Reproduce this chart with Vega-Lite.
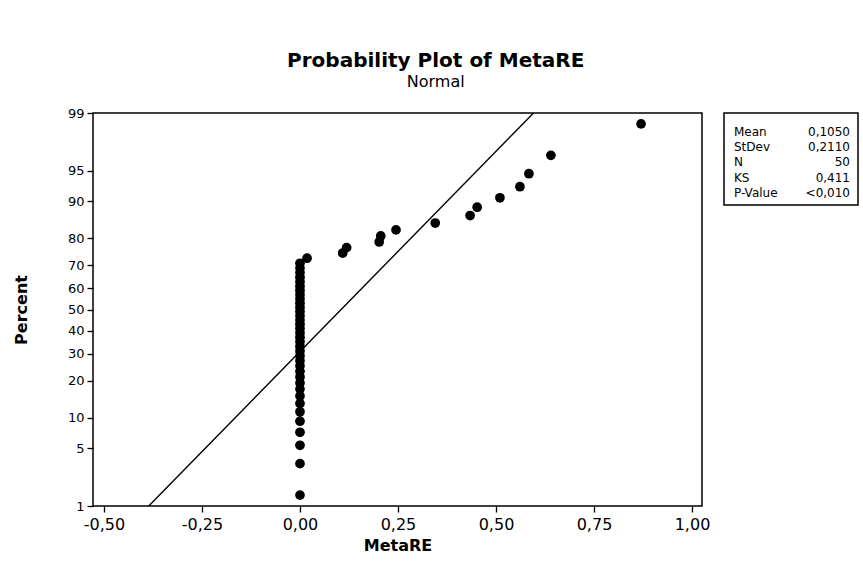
{
  "$schema": "https://vega.github.io/schema/vega-lite/v6.json",
  "background": "white",
  "padding": {"left": 12, "top": 51, "right": 3, "bottom": 5},
  "autosize": {"type": "pad"},
  "bounds": "flush",
  "spacing": 22,
  "title": {
    "text": "Probability Plot of MetaRE",
    "subtitle": "Normal",
    "font": "DejaVu Sans",
    "fontSize": 20,
    "fontWeight": "bold",
    "color": "black",
    "subtitleFont": "DejaVu Sans",
    "subtitleFontSize": 16,
    "subtitleColor": "black",
    "subtitlePadding": 3,
    "offset": 16,
    "anchor": "middle"
  },
  "config": {
    "font": "DejaVu Sans",
    "view": {"stroke": "black", "strokeWidth": 1.5},
    "axis": {
      "domain": false,
      "grid": false,
      "labelFont": "DejaVu Sans",
      "labelColor": "black",
      "tickColor": "black",
      "tickSize": 6,
      "tickWidth": 1.3,
      "titleFont": "DejaVu Sans",
      "titleFontWeight": "bold",
      "titleFontSize": 16,
      "titleColor": "black"
    }
  },
  "hconcat": [
    {
      "width": 609,
      "height": 393,
      "encoding": {
        "x": {
          "field": "x",
          "type": "quantitative",
          "title": "MetaRE",
          "scale": {"domain": [-0.528, 1.0255], "nice": false, "zero": false},
          "axis": {
            "values": [-0.5, -0.25, 0, 0.25, 0.5, 0.75, 1.0],
            "labelExpr": "replace(replace(format(datum.value, '.2f'), '.', ','), '\u2212', '-')",
            "labelFontSize": 16,
            "labelPadding": 4,
            "titlePadding": 5
          }
        },
        "y": {
          "field": "z",
          "type": "quantitative",
          "title": "Percent",
          "scale": {"domain": [-2.3263, 2.3263], "nice": false, "zero": false},
          "axis": {
            "values": [-2.3263, -1.6449, -1.2816, -0.8416, -0.5244, -0.2533, 0, 0.2533, 0.5244, 0.8416, 1.2816, 1.6449, 2.3263],
            "labelExpr": "format(cumulativeNormal(datum.value) * 100, '.0f')",
            "labelFontSize": 13,
            "labelPadding": 3,
            "titlePadding": 38
          }
        }
      },
      "layer": [
        {
          "data": {"values": [{"x": -0.3858, "p": 1}, {"x": 0.5958, "p": 99}]},
          "transform": [{"calculate": "quantileNormal(datum.p / 100)", "as": "z"}],
          "mark": {"type": "line", "color": "black", "strokeWidth": 1.4, "clip": true}
        },
        {
          "data": {"values": [
            {"x": 0, "p": 1.4}, {"x": 0, "p": 3.4}, {"x": 0, "p": 5.4}, {"x": 0, "p": 7.3},
            {"x": 0, "p": 9.3}, {"x": 0, "p": 11.3}, {"x": 0, "p": 13.3}, {"x": 0, "p": 15.3},
            {"x": 0, "p": 17.3}, {"x": 0, "p": 19.2}, {"x": 0, "p": 21.2}, {"x": 0, "p": 23.2},
            {"x": 0, "p": 25.2}, {"x": 0, "p": 27.2}, {"x": 0, "p": 29.2}, {"x": 0, "p": 31.2},
            {"x": 0, "p": 33.1}, {"x": 0, "p": 35.1}, {"x": 0, "p": 37.1}, {"x": 0, "p": 39.1},
            {"x": 0, "p": 41.1}, {"x": 0, "p": 43.1}, {"x": 0, "p": 45.0}, {"x": 0, "p": 47.0},
            {"x": 0, "p": 49.0}, {"x": 0, "p": 51.0}, {"x": 0, "p": 53.0}, {"x": 0, "p": 55.0},
            {"x": 0, "p": 56.9}, {"x": 0, "p": 58.9}, {"x": 0, "p": 60.9}, {"x": 0, "p": 62.9},
            {"x": 0, "p": 64.9}, {"x": 0, "p": 66.9}, {"x": 0, "p": 68.8}, {"x": 0, "p": 70.8},
            {"x": 0.018, "p": 72.8}, {"x": 0.109, "p": 74.8}, {"x": 0.119, "p": 76.8},
            {"x": 0.202, "p": 78.8}, {"x": 0.206, "p": 80.8}, {"x": 0.245, "p": 82.7},
            {"x": 0.345, "p": 84.7}, {"x": 0.434, "p": 86.7}, {"x": 0.452, "p": 88.7},
            {"x": 0.510, "p": 90.7}, {"x": 0.561, "p": 92.7}, {"x": 0.584, "p": 94.6},
            {"x": 0.640, "p": 96.6}, {"x": 0.870, "p": 98.6}
          ]},
          "transform": [{"calculate": "quantileNormal(datum.p / 100)", "as": "z"}],
          "mark": {"type": "circle", "color": "black", "opacity": 1, "size": 95}
        }
      ]
    },
    {
      "width": 134,
      "height": 92,
      "data": {"values": [
        {"label": "Mean", "value": "0,1050", "row": 0},
        {"label": "StDev", "value": "0,2110", "row": 1},
        {"label": "N", "value": "50", "row": 2},
        {"label": "KS", "value": "0,411", "row": 3},
        {"label": "P-Value", "value": "<0,010", "row": 4}
      ]},
      "encoding": {
        "y": {"field": "row", "type": "quantitative", "scale": {"domain": [-1.22, 4.79], "reverse": true, "nice": false, "zero": false}, "axis": null}
      },
      "layer": [
        {
          "mark": {"type": "text", "align": "left", "baseline": "middle", "fontSize": 12, "color": "black", "font": "DejaVu Sans"},
          "encoding": {
            "x": {"datum": 0, "type": "quantitative", "scale": {"domain": [-0.0862, 1.069], "nice": false, "zero": false}, "axis": null},
            "text": {"field": "label"}
          }
        },
        {
          "mark": {"type": "text", "align": "right", "baseline": "middle", "fontSize": 12, "color": "black", "font": "DejaVu Sans"},
          "encoding": {
            "x": {"datum": 1, "type": "quantitative", "axis": null},
            "text": {"field": "value"}
          }
        }
      ]
    }
  ]
}
